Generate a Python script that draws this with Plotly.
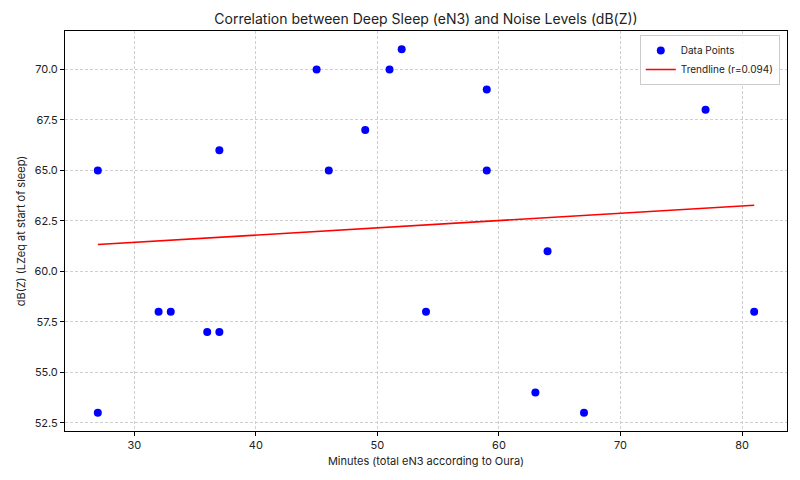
import numpy as np
import plotly.graph_objects as go

deep_sleep_min = [27, 27, 32, 33, 36, 37, 37, 45, 46, 49, 51, 52, 54, 59, 59, 63, 64, 67, 77, 81]
noise_dbz = [65, 53, 58, 58, 57, 57, 66, 70, 65, 67, 70, 71, 58, 69, 65, 54, 61, 53, 68, 58]
x_ticks = [30, 40, 50, 60, 70, 80]
y_ticks = [52.5, 55.0, 57.5, 60.0, 62.5, 65.0, 67.5, 70.0]

x = np.array(deep_sleep_min, dtype=float)
y = np.array(noise_dbz, dtype=float)
slope, intercept = np.polyfit(x, y, 1)
trend_y = slope * x + intercept

FONT = "Inter"

fig = go.Figure()
fig.add_trace(go.Scatter(
    x=deep_sleep_min, y=noise_dbz, mode="markers", name="Data Points",
    marker=dict(color="#0000ff", size=8, line=dict(width=0)),
))
fig.add_trace(go.Scatter(
    x=deep_sleep_min, y=trend_y.tolist(), mode="lines", name="Trendline (r=0.094)",
    line=dict(color="#ff0000", width=1.6),
))

xr = (min(deep_sleep_min), max(deep_sleep_min))
yr = (min(noise_dbz), max(noise_dbz))
xm = 0.05 * (xr[1] - xr[0])
ym = 0.05 * (yr[1] - yr[0])

axis_common = dict(
    showline=True, linecolor="black", linewidth=1, mirror=True,
    ticks="outside", ticklen=4, tickcolor="black", tickwidth=1,
    showgrid=True, gridcolor="#cfcfcf", griddash="3px,2px", gridwidth=0.8,
    zeroline=False, automargin=False,
    tickfont=dict(family=FONT, size=11, color="#222222"),
)

fig.update_layout(
    width=800, height=480,
    margin=dict(l=57, r=21, t=23, b=57),
    paper_bgcolor="white", plot_bgcolor="white",
    font=dict(family=FONT, color="#222222"),
    title=dict(text="Correlation between Deep Sleep (eN3) and Noise Levels (dB(Z))",
               x=0.5, xref="paper", xanchor="center", y=0.977, yanchor="middle",
               font=dict(family=FONT, size=14, color="#222222")),
    xaxis=dict(range=[xr[0] - xm, xr[1] + xm], tickvals=x_ticks,
               ticktext=[str(v) for v in x_ticks],
               title=dict(text="Minutes (total eN3 according to Oura)", standoff=6,
                          font=dict(family=FONT, size=11)),
               **axis_common),
    yaxis=dict(range=[yr[0] - ym, yr[1] + ym], tickvals=y_ticks,
               ticktext=[f"{v:.1f}" for v in y_ticks],
               title=dict(text="dB(Z) (LZeq at start of sleep)", standoff=6,
                          font=dict(family=FONT, size=11)),
               **axis_common),
    legend=dict(x=0.99, y=0.99, xanchor="right", yanchor="top",
                bgcolor="rgba(255,255,255,0.85)", bordercolor="#cccccc", borderwidth=1,
                font=dict(family=FONT, size=10, color="#222222"), tracegroupgap=0),
    showlegend=True,
)

fig.write_html("out.html")
